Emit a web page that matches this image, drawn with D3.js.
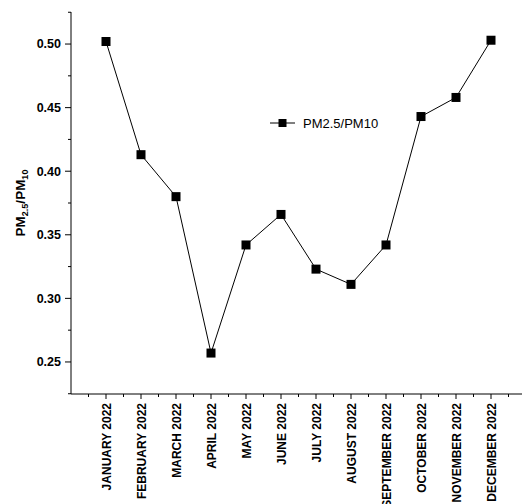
<!DOCTYPE html>
<html>
<head>
<meta charset="utf-8">
<script src="https://cdn.jsdelivr.net/npm/d3@7"></script>
<style>
body{margin:0;background:#fff}
text{font-family:"Liberation Sans",Arial,sans-serif}
</style>
</head>
<body>
<div id="chart"></div>
<script>
var months = ["JANUARY 2022","FEBRUARY 2022","MARCH 2022","APRIL 2022","MAY 2022","JUNE 2022",
  "JULY 2022","AUGUST 2022","SEPTEMBER 2022","OCTOBER 2022","NOVEMBER 2022","DECEMBER 2022"]
var ratio = [0.502,0.413,0.380,0.257,0.342,0.366,0.323,0.311,0.342,0.443,0.458,0.503]
var yTicks = [0.25,0.30,0.35,0.40,0.45,0.50]
var seriesName = "PM2.5/PM10"

var W = 522, H = 504
var svg = d3.select("#chart").append("svg").attr("width",W).attr("height",H)

//* scales
var x = d3.scaleLinear().domain([0,13]).range([71,526])
var y = d3.scaleLinear().domain([0.2248,0.5252]).range([394,12])

//* y axis
var gy = svg.append("g").attr("transform","translate(71,0)")
gy.append("line").attr("y1",12).attr("y2",394).attr("stroke","#000").attr("stroke-width",1)
d3.range(0.225,0.526,0.025).forEach(function(v){
    var major = yTicks.some(function(t){return Math.abs(t-v)<1e-6})
    gy.append("line").attr("x1",major?-6:-3).attr("x2",0)
      .attr("y1",y(v)).attr("y2",y(v)).attr("stroke","#000")
})
yTicks.forEach(function(t){
    gy.append("text").attr("x",-10).attr("y",y(t)).attr("dy","0.35em")
      .attr("text-anchor","end").attr("font-size",12.5).attr("font-weight","bold")
      .text(t.toFixed(2))
})

//* x axis
var gx = svg.append("g").attr("transform","translate(0,394)")
gx.append("line").attr("x1",71).attr("x2",522).attr("stroke","#000").attr("stroke-width",1)
d3.range(0.5,13,0.5).forEach(function(i){
    var major = Number.isInteger(i)
    gx.append("line").attr("x1",x(i)).attr("x2",x(i)).attr("y1",0).attr("y2",major?5:3).attr("stroke","#000")
})
months.forEach(function(m,i){
    gx.append("text").attr("transform","translate("+(x(i+1)+4.5)+",9) rotate(-90)")
      .attr("text-anchor","end").attr("font-size",12).attr("font-weight","bold").text(m)
})

//* y title with subscripts
var ttl = svg.append("text").attr("transform","translate(25,203) rotate(-90)")
  .attr("text-anchor","middle").attr("font-size",13.5).attr("font-weight","bold")
ttl.append("tspan").text("PM")
ttl.append("tspan").attr("font-size",9).attr("dy",3).text("2.5")
ttl.append("tspan").attr("dy",-3).text("/PM")
ttl.append("tspan").attr("font-size",9).attr("dy",3).text("10")

//* line + markers
var line = d3.line().x(function(d,i){return x(i+1)}).y(function(d){return y(d)})
svg.append("path").datum(ratio).attr("d",line).attr("fill","none").attr("stroke","#000").attr("stroke-width",1)
svg.selectAll(".pt").data(ratio).enter().append("rect").attr("class","pt")
  .attr("x",function(d,i){return x(i+1)-4.5}).attr("y",function(d){return y(d)-4.5})
  .attr("width",9).attr("height",9).attr("fill","#000")

//* legend
var lg = svg.append("g").attr("transform","translate(270,123)")
lg.append("line").attr("x1",0).attr("x2",25).attr("stroke","#000")
lg.append("rect").attr("x",8.5).attr("y",-4).attr("width",8).attr("height",8).attr("fill","#000")
lg.append("text").attr("x",33).attr("dy","0.35em").attr("font-size",13).text(seriesName)
</script>
</body>
</html>
